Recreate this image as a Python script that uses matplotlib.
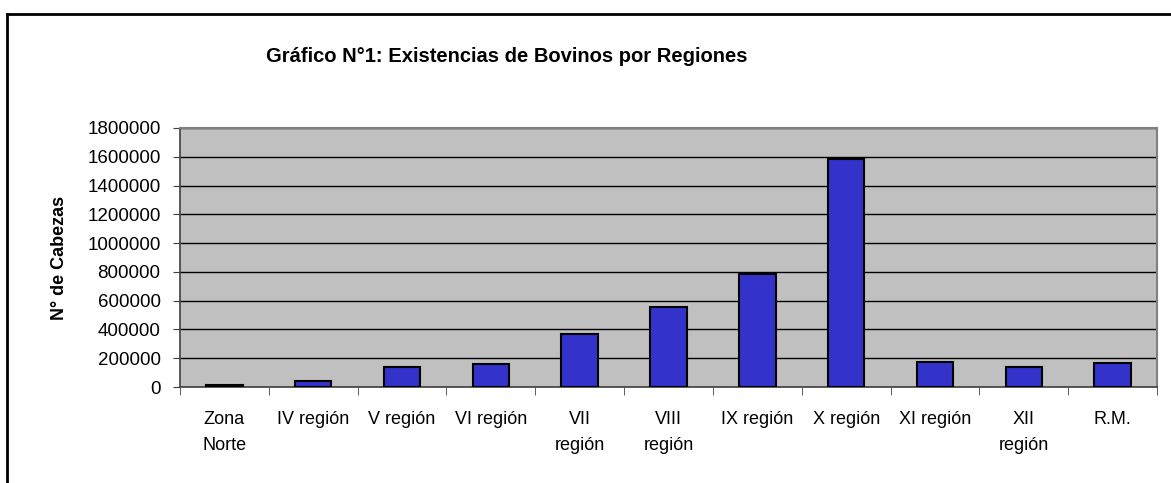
import numpy as np
import matplotlib.pyplot as plt
from matplotlib.lines import Line2D

plt.rcParams['font.family'] = ['Liberation Sans', 'DejaVu Sans']

# data
regions = ['Zona\nNorte', 'IV región', 'V región', 'VI región', 'VII\nregión',
           'VIII\nregión', 'IX región', 'X región', 'XI región', 'XII\nregión', 'R.M.']
cabezas = [12000, 40000, 137000, 158000, 366000, 554000, 785000, 1587000,
           172000, 141000, 167000]
y_ticks = [0, 200000, 400000, 600000, 800000, 1000000, 1200000, 1400000, 1600000, 1800000]

W, H = 1171, 483
fig = plt.figure(figsize=(W / 100, H / 100), dpi=100)
ax = fig.add_axes([180 / W, 1 - 387 / H, 977 / W, 259 / H])

x = np.arange(len(regions))
ax.set_facecolor('#C0C0C0')
ax.bar(x, cabezas, width=0.41, color='#3333CC', edgecolor='black', linewidth=1.5, zorder=3)

ax.set_xlim(-0.5, len(regions) - 0.5)
ax.set_ylim(0, 1800000)
ax.set_yticks(y_ticks)
ax.set_yticklabels([str(v) for v in y_ticks], fontsize=13.5)
ax.yaxis.grid(True, color='black', linewidth=1, zorder=1)
ax.set_axisbelow(True)

# category labels centred, tick marks between categories
ax.set_xticks(x)
ax.set_xticklabels(regions, fontsize=13, linespacing=1.75, va='top')
ax.tick_params(axis='x', length=0, pad=17)
ax.set_xticks(np.arange(-0.5, len(regions)), minor=True)
ax.tick_params(axis='x', which='minor', length=6, direction='out', color='#404040')
ax.tick_params(axis='y', length=5, direction='out', color='#404040', pad=9)

for s in ['top', 'right']:
    ax.spines[s].set_color('#808080')
    ax.spines[s].set_linewidth(1.5)
for s in ['left', 'bottom']:
    ax.spines[s].set_color('#404040')
    ax.spines[s].set_linewidth(1.2)

ax.set_ylabel('N° de Cabezas', fontsize=13, fontweight='bold', labelpad=14)

fig.text(507 / W, 1 - 57 / H, 'Gráfico N°1: Existencias de Bovinos por Regiones',
         ha='center', va='center', fontsize=14.5, fontweight='bold')

# outer frame (only left and top visible)
fig.add_artist(Line2D([7 / W, 7 / W], [0, 1 - 14 / H], color='black', linewidth=2,
                      transform=fig.transFigure))
fig.add_artist(Line2D([7 / W, 1], [1 - 14 / H, 1 - 14 / H], color='black', linewidth=2,
                      transform=fig.transFigure))

fig.savefig('out.png', dpi=100)
